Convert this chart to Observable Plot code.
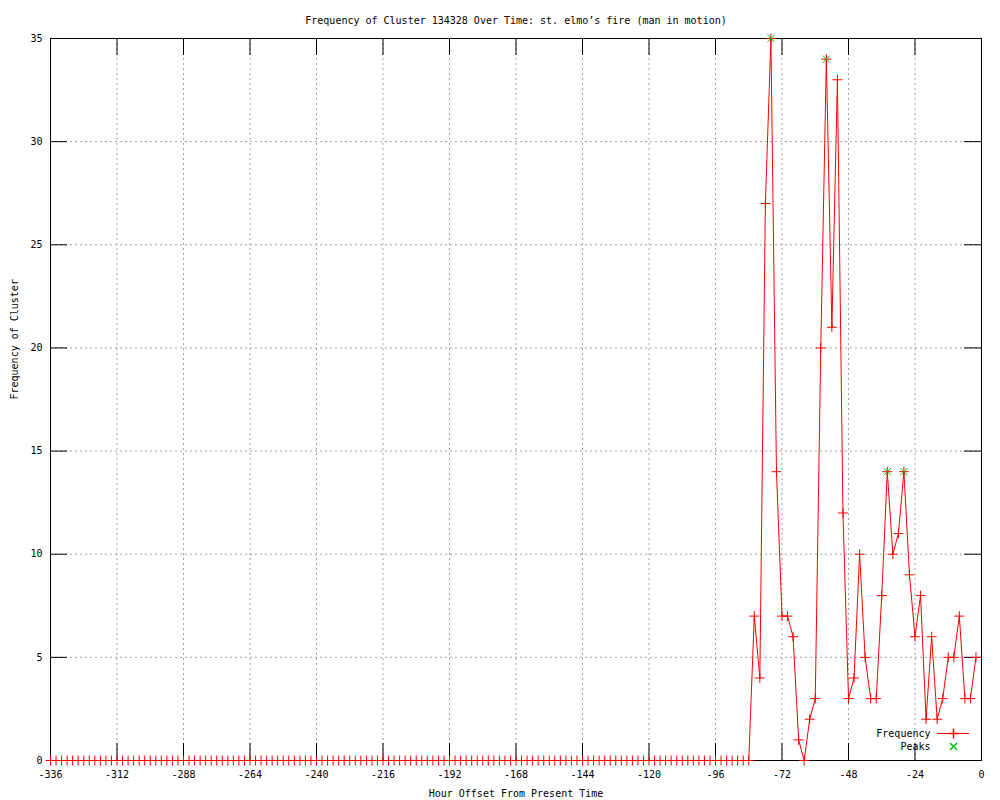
<!DOCTYPE html>
<html><head><meta charset="utf-8">
<script src="https://cdn.jsdelivr.net/npm/d3@7"></script>
<script src="https://cdn.jsdelivr.net/npm/@observablehq/plot@0.6"></script>
<style>body{margin:0;background:#fff} #chart{width:1000px;height:800px}</style>
</head><body><div id="chart"></div>
<script>
// Hour offsets (every 2 hours from -336 to -2)
const hours = d3.range(-336, 0, 2);
// Frequency values
const frequency = [
  0,0,0,0,0,0,0,0,0,0,0,0,0,0,0,0,0,0,0,0,
  0,0,0,0,0,0,0,0,0,0,0,0,0,0,0,0,0,0,0,0,
  0,0,0,0,0,0,0,0,0,0,0,0,0,0,0,0,0,0,0,0,
  0,0,0,0,0,0,0,0,0,0,0,0,0,0,0,0,0,0,0,0,
  0,0,0,0,0,0,0,0,0,0,0,0,0,0,0,0,0,0,0,0,
  0,0,0,0,0,0,0,0,0,0,0,0,0,0,0,0,0,0,0,0,
  0,0,0,0,0,0,0,
  7,4,27,35,14,7,7,6,1,0,
  2,3,20,34,21,33,12,3,4,10,
  5,3,3,8,14,10,11,14,9,6,
  8,2,6,2,3,5,5,7,3,3,
  5
];
const peakHours = [-76, -56, -34, -28];
const peakValues = [35, 34, 14, 14];
const xTicks = [-336,-312,-288,-264,-240,-216,-192,-168,-144,-120,-96,-72,-48,-24,0];
const yTicks = [0,5,10,15,20,25,30,35];
const titleText = "Frequency of Cluster 134328 Over Time: st. elmo\u2019s fire (man in motion)";
const xLabel = "Hour Offset From Present Time";
const yLabel = "Frequency of Cluster";
const legendLabels = ["Frequency", "Peaks"];

const W = 1000, H = 800, mL = 50, mR = 19, mT = 38, mB = 40;
const fw = W - mL - mR, fh = H - mT - mB;
const tickLen = 17;
const font = "DejaVu Sans Mono";
const red = "#ff0000", green = "#00c000", gridColor = "#a0a0a0";

const data = hours.map((h, i) => ({h, v: frequency[i]}));
const peaks = peakHours.map((h, i) => ({h, v: peakValues[i]}));

const plot = Plot.plot({
  width: W, height: H,
  marginLeft: mL, marginRight: mR, marginTop: mT, marginBottom: mB,
  style: {fontFamily: font, fontSize: "10px", background: "#fff", color: "#000", overflow: "visible"},
  x: {domain: [-336, 0]},
  y: {domain: [0, 35]},
  marks: [
    Plot.ruleX(xTicks.slice(1, -1), {stroke: gridColor, strokeDasharray: "2,3"}),
    Plot.ruleY(yTicks.slice(1, -1), {stroke: gridColor, strokeDasharray: "2,3"}),
    Plot.ruleX(xTicks, {stroke: "#000", insetTop: fh - tickLen}),
    Plot.ruleX(xTicks, {stroke: "#000", insetBottom: fh - tickLen}),
    Plot.ruleY(yTicks, {stroke: "#000", insetRight: fw - tickLen}),
    Plot.ruleY(yTicks, {stroke: "#000", insetLeft: fw - tickLen}),
    Plot.frame({stroke: "#000"}),
    Plot.axisX(xTicks, {tickSize: 0, tickPadding: 10, tickFormat: d => String(d), label: null}),
    Plot.axisY(yTicks, {tickSize: 0, tickPadding: 8, tickFormat: d => String(d), label: null}),
    Plot.line(data, {x: "h", y: "v", stroke: red, strokeWidth: 1}),
    Plot.dot(data, {x: "h", y: "v", symbol: "plus", r: 3.3, stroke: red, strokeWidth: 1}),
    Plot.dot(peaks, {x: "h", y: "v", symbol: "times", r: 3.3, stroke: green, strokeWidth: 1}),
    Plot.text([titleText], {frameAnchor: "top", dy: -22, fill: "#000"}),
    Plot.text([xLabel], {frameAnchor: "bottom", dy: 36, fill: "#000"}),
    Plot.text([yLabel], {frameAnchor: "left", dx: -36, rotate: -90, fill: "#000"}),
    Plot.text([legendLabels[0]], {frameAnchor: "bottom-right", dx: -51, dy: -24, textAnchor: "end", fill: "#000"}),
    Plot.text([legendLabels[1]], {frameAnchor: "bottom-right", dx: -51, dy: -11, textAnchor: "end", fill: "#000"}),
    Plot.dot([0], {frameAnchor: "bottom-right", dx: -28, dy: -27, symbol: "plus", r: 3.3, stroke: red}),
    Plot.dot([0], {frameAnchor: "bottom-right", dx: -28, dy: -14, symbol: "times", r: 3.3, stroke: green})
  ]
});

// legend line sample
d3.select(plot).append("line")
  .attr("x1", W - mR - 44).attr("x2", W - mR - 12)
  .attr("y1", H - mB - 27 + 0.5).attr("y2", H - mB - 27 + 0.5)
  .attr("stroke", red).attr("stroke-width", 1);

document.getElementById("chart").appendChild(plot);
</script>
</body></html>
